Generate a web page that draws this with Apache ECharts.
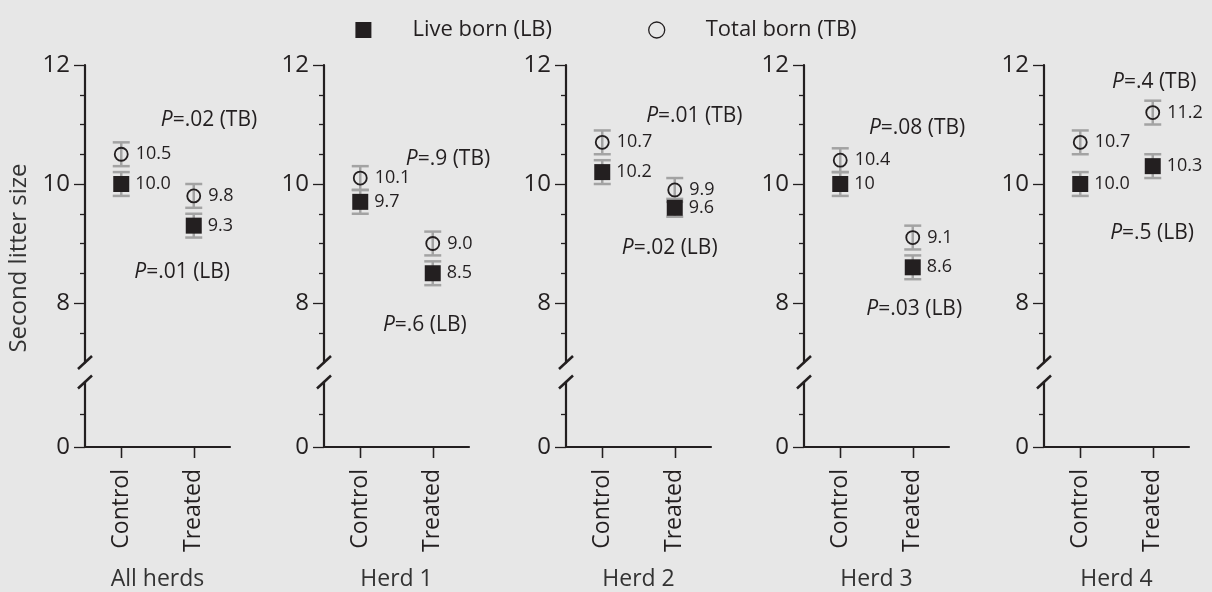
<!DOCTYPE html>
<html><head><meta charset="utf-8">
<script src="https://cdn.jsdelivr.net/npm/echarts@6/dist/echarts.min.js"></script>
<style>html,body{margin:0;padding:0;background:#e7e7e7}#c{width:1212px;height:592px}</style>
</head><body><div id="c"></div>
<script>
// ---- data ----
const categories = ['Control', 'Treated'];
const panelNames = ['All herds', 'Herd 1', 'Herd 2', 'Herd 3', 'Herd 4'];
const lbValues = [[10.0, 9.3], [9.7, 8.5], [10.2, 9.6], [10.0, 8.6], [10.0, 10.3]];
const tbValues = [[10.5, 9.8], [10.1, 9.0], [10.7, 9.9], [10.4, 9.1], [10.7, 11.2]];
const lbErr = [[0.2, 0.2], [0.2, 0.2], [0.2, 0.15], [0.2, 0.2], [0.2, 0.2]];
const tbErr = [[0.2, 0.2], [0.2, 0.2], [0.2, 0.2], [0.2, 0.2], [0.2, 0.2]];
const lbLabels = [['10.0', '9.3'], ['9.7', '8.5'], ['10.2', '9.6'], ['10', '8.6'], ['10.0', '10.3']];
const tbLabels = [['10.5', '9.8'], ['10.1', '9.0'], ['10.7', '9.9'], ['10.4', '9.1'], ['10.7', '11.2']];
const pTB = ['.02', '.9', '.01', '.08', '.4'];
const pLB = ['.01', '.6', '.02', '.03', '.5'];
const upperTickLabels = [8, 10, 12];
const lowerTickLabels = [0];
const seriesLB = 'Live born (LB)';
const seriesTB = 'Total born (TB)';
const yTitle = 'Second litter size';

// ---- layout / style ----
const pTBPos = [[1.21, 11.08], [1.21, 10.42], [1.27, 11.14], [1.06, 10.94], [1.02, 11.71]];
const pLBPos = [[0.84, 8.52], [0.89, 7.63], [0.93, 8.92], [1.02, 7.90], [0.99, 9.18]];
const panelLeft = [85, 324, 566, 804, 1044];
const gridW = 145, upperTop = 65, upperH = 297.5, lowerTop = 382, lowerH = 67;
const INK = '#231f20', ERR = '#a3a3a3', FONT = 'Open Sans';
const upperMinor = [];
for (let v = 7.5; v < 12; v += 0.5) if (!upperTickLabels.includes(v)) upperMinor.push(v);
const catIdx = categories.map((c, j) => j);

const grids = [], xAxes = [], yAxes = [], series = [];

function renderErr(params, api) {
  const x = api.value(0), lo = api.value(1), hi = api.value(2);
  const p1 = api.coord([x, lo]), p2 = api.coord([x, hi]);
  const w = 8.5;
  const st = () => ({ stroke: ERR, lineWidth: 2.5 });
  return { type: 'group', children: [
    { type: 'line', shape: { x1: p1[0], y1: p1[1], x2: p2[0], y2: p2[1] }, style: st() },
    { type: 'line', shape: { x1: p1[0] - w, y1: p1[1], x2: p1[0] + w, y2: p1[1] }, style: st() },
    { type: 'line', shape: { x1: p2[0] - w, y1: p2[1], x2: p2[0] + w, y2: p2[1] }, style: st() }
  ]};
}

const lineStyle = () => ({ color: INK, width: 2.2 });
const tickStyle = () => ({ color: INK, width: 1.3 });

panelNames.forEach((pn, i) => {
  grids.push({ left: panelLeft[i], top: upperTop, width: gridW, height: upperH });
  grids.push({ left: panelLeft[i], top: lowerTop, width: gridW, height: lowerH });
  xAxes.push({ type: 'value', gridIndex: 2 * i, min: -0.5, max: 1.5, show: false });
  xAxes.push({
    type: 'value', gridIndex: 2 * i + 1, min: -0.5, max: 1.5, position: 'bottom',
    axisLine: { show: true, onZero: false, lineStyle: lineStyle() },
    axisTick: { show: true, inside: false, customValues: catIdx, length: 11, lineStyle: tickStyle() },
    axisLabel: { show: true, customValues: catIdx, formatter: v => categories[Math.round(v)],
      rotate: 90, margin: 22, fontSize: 23, color: INK, fontFamily: FONT },
    splitLine: { show: false },
    name: pn, nameLocation: 'middle', nameGap: 121,
    nameTextStyle: { fontSize: 23, color: '#333', fontFamily: FONT }
  });
  // upper y axes
  yAxes.push({ type: 'value', gridIndex: 2 * i, min: 7, max: 12, position: 'left',
    axisLine: { show: true, onZero: false, lineStyle: lineStyle() },
    axisTick: { show: true, length: 5, customValues: upperMinor, lineStyle: tickStyle() },
    axisLabel: { show: false }, splitLine: { show: false } });
  yAxes.push({ type: 'value', gridIndex: 2 * i, min: 7, max: 12, position: 'left',
    axisLine: { show: false, onZero: false },
    axisTick: { show: true, length: 11, customValues: upperTickLabels, lineStyle: tickStyle() },
    axisLabel: { show: true, customValues: upperTickLabels, margin: 15, fontSize: 24, color: INK, fontFamily: FONT },
    splitLine: { show: false } });
  // lower y axes
  yAxes.push({ type: 'value', gridIndex: 2 * i + 1, min: 0, max: 1, position: 'left',
    axisLine: { show: true, onZero: false, lineStyle: lineStyle() },
    axisTick: { show: true, length: 5, customValues: [0.5], lineStyle: tickStyle() },
    axisLabel: { show: false }, splitLine: { show: false } });
  yAxes.push({ type: 'value', gridIndex: 2 * i + 1, min: 0, max: 1, position: 'left',
    axisLine: { show: false, onZero: false },
    axisTick: { show: true, length: 11, customValues: lowerTickLabels, lineStyle: tickStyle() },
    axisLabel: { show: true, customValues: lowerTickLabels, margin: 15, fontSize: 24, color: INK, fontFamily: FONT },
    splitLine: { show: false } });

  const xi = 2 * i, yi = 4 * i;
  const errData = [];
  catIdx.forEach(j => {
    errData.push([j, lbValues[i][j] - lbErr[i][j], lbValues[i][j] + lbErr[i][j]]);
    errData.push([j, tbValues[i][j] - tbErr[i][j], tbValues[i][j] + tbErr[i][j]]);
  });
  series.push({ type: 'custom', xAxisIndex: xi, yAxisIndex: yi, renderItem: renderErr,
    data: errData, silent: true, z: 1 });
  series.push({ type: 'scatter', name: seriesLB, xAxisIndex: xi, yAxisIndex: yi,
    symbol: 'rect', symbolSize: 16, itemStyle: { color: INK, opacity: 1 }, z: 3,
    data: catIdx.map(j => [j, lbValues[i][j]]),
    label: { show: true, position: 'right', distance: 6, fontSize: 18, color: INK, fontFamily: FONT,
      formatter: p => lbLabels[i][p.dataIndex] },
    emphasis: { disabled: true } });
  series.push({ type: 'scatter', name: seriesTB, xAxisIndex: xi, yAxisIndex: yi,
    symbol: 'circle', symbolSize: 13,
    itemStyle: { color: 'rgba(0,0,0,0)', borderColor: INK, borderWidth: 1.8, opacity: 1 }, z: 3,
    data: catIdx.map(j => [j, tbValues[i][j]]),
    label: { show: true, position: 'right', distance: 7, fontSize: 18, color: INK, fontFamily: FONT,
      formatter: p => tbLabels[i][p.dataIndex] },
    emphasis: { disabled: true } });
  const annLabel = (txt) => ({ show: true, position: 'inside', formatter: txt,
    fontSize: 21, color: INK, fontFamily: FONT,
    rich: { i: { fontStyle: 'italic', fontSize: 21, color: INK, fontFamily: FONT } } });
  series.push({ type: 'scatter', xAxisIndex: xi, yAxisIndex: yi, symbolSize: 1, silent: true,
    itemStyle: { color: 'rgba(0,0,0,0)', opacity: 1 }, z: 4,
    data: [{ value: pTBPos[i], label: annLabel('{i|P}=' + pTB[i] + ' (TB)') },
           { value: pLBPos[i], label: annLabel('{i|P}=' + pLB[i] + ' (LB)') }] });
});

const chart = echarts.init(document.getElementById('c'), null, { renderer: 'canvas' });
chart.setOption({
  backgroundColor: '#e7e7e7',
  animation: false,
  textStyle: { fontFamily: FONT },
  legend: {
    top: 14, left: 'center', itemWidth: 16, itemHeight: 16, itemGap: 96, selectedMode: false,
    textStyle: { fontSize: 22, color: INK, fontFamily: FONT, padding: [0, 0, 0, 36] },
    data: [{ name: seriesLB, icon: 'rect', itemStyle: { opacity: 1 } },
           { name: seriesTB, icon: 'circle', itemStyle: { borderWidth: 1.3, opacity: 1 } }]
  },
  grid: grids, xAxis: xAxes, yAxis: yAxes, series: series
});

// y title, category ticks and axis break marks (positions from the axes)
const graphics = [{ id: 'ytitle', type: 'text', x: 19, y: 258, rotation: Math.PI / 2,
  style: { text: yTitle, fontSize: 24, fontFamily: FONT, fill: '#333',
    align: 'center', verticalAlign: 'middle' } }];
panelNames.forEach((pn, i) => {
  const ax = chart.convertToPixel({ xAxisIndex: 2 * i }, -0.5);
  const yTop = chart.convertToPixel({ yAxisIndex: 4 * i }, 7);
  const yBot = chart.convertToPixel({ yAxisIndex: 4 * i + 2 }, 1);
  const y0 = chart.convertToPixel({ yAxisIndex: 4 * i + 2 }, 0);
  [yTop, yBot].forEach((y, k) => graphics.push({ id: 'brk' + i + '_' + k, type: 'line', z: 100,
    shape: { x1: ax - 7, y1: y + 6.5, x2: ax + 7, y2: y - 6.5 },
    style: { stroke: INK, lineWidth: 2.5 } }));
  catIdx.forEach(j => {
    const cx = Math.round(chart.convertToPixel({ xAxisIndex: 2 * i + 1 }, j)) + 0.5;
    graphics.push({ id: 'xt' + i + '_' + j, type: 'line', z: 100,
      shape: { x1: cx, y1: y0, x2: cx, y2: y0 + 11 },
      style: { stroke: INK, lineWidth: 1.3 } });
  });
});
chart.setOption({ graphic: graphics });
</script></body></html>
